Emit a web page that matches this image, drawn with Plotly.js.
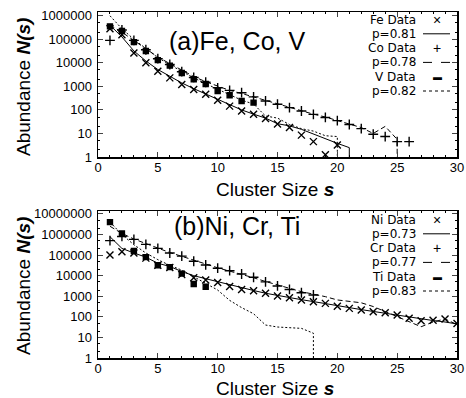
<!DOCTYPE html>
<html>
<head>
<meta charset="utf-8">
<script src="https://cdn.plot.ly/plotly-3.0.1.min.js"></script>
<style>html,body{margin:0;padding:0;background:#fff;}#plot{width:466px;height:398px;}</style>
</head>
<body>
<div id="plot"></div>
<script>
// ---------- data ----------
const feSizes = [1,2,3,4,5,6,7,8,9,10,11,12,13,14,15,16,17,18,19,20];
const feData  = [280000,155000,26000,10000,4400,2300,1200,740,460,260,145,90,65,43,25,18,8.5,4.5,1.25,3.2];
const coSizes = [1,2,3,4,5,6,7,8,9,10,11,12,13,14,15,16,17,18,19,20,21,22,23,24,25,26];
const coData  = [90000,250000,90000,36000,15000,8500,4200,2400,1500,870,680,540,360,240,175,125,90,65,48,35,24,16,9.3,7.4,4.5,4.5];
const vSizes  = [1,2,3,4,5,6,7,8,9,10,11,12,13];
const vData   = [355000,225000,76000,32000,13000,7600,3700,2000,1260,630,420,240,205];

const feFitSizes = [1,2,3,4,5,6,7,8,9,10,11,12,13,14,15,16,17,18,19,20,21,21];
const feFit      = [400000,126000,32000,12000,5200,2630,1400,800,480,280,166,100,66,45,26,21,15,9.3,5.8,3.8,2.5,0.5];
const coFitSizes = [1,2,3,4,5,6,7,8,9,10,11,12,13,14,15,16,17,18,19,20,21,22,23,24,25,25];
const coFit      = [400000,200000,89000,40000,17800,9300,4800,2630,1580,1000,676,500,355,250,178,126,91,66,50,35,25,17.8,10,20,5.6,0.5];
const vFitSizes  = [1,2,3,4,5,6,7,8,9,10,11,12,13,14,15,16,17,18,19,20,20];
const vFit       = [1000000,280000,100000,40000,16600,8300,4200,2300,1300,760,450,260,178,55,45,24,16,12.6,8,7.4,0.5];

const niSizes = [1,2,3,4,5,6,7,8,9,10,11,12,13,14,15,16,17,18,19,20,21,22,23,24,25,26,27,28,29,30];
const niData  = [100000,145000,126000,71000,32000,25000,11200,7900,6200,4600,3000,2140,1860,1380,1020,850,660,540,450,330,257,214,178,158,123,85,65,69,79,48];
const crSizes = [1,2,3,4,5,6,7,8,9,10,11,12,13,14,15,16,17,18];
const crData  = [500000,800000,575000,330000,210000,126000,89000,50000,33000,23000,17400,12000,8300,5000,3160,2140,1480,1150];
const tiSizes = [1,2,3,4,5,6,7,8,9];
const tiData  = [4000000,1120000,158000,79000,32000,26000,12600,3900,2900];

const niFitSizes = [1,2,3,4,5,6,7,8,9,10,11,12,13,14,15,16,17,18,19,20,21,22,23,24,25,26,27,28,29,30];
const niFit      = [780000,210000,126000,79000,40000,28000,15800,10000,7100,5000,3550,2500,1900,1400,1070,850,680,550,450,355,280,224,182,148,120,95,76,66,56,45];
const crFitSizes = [1,2,3,4,5,6,7,8,9,10,11,12,13,14,15,16,17,18,19,20,21,22,23,24,25,26,27,28,29,30];
const crFit      = [2500000,1120000,600000,355000,214000,132000,87000,55000,35500,24000,16600,11700,7900,5200,3470,2400,1660,1260,955,660,550,480,316,178,100,56,33,56,79,42];
const tiFitSizes = [1,2,3,4,5,6,7,8,9,10,11,12,13,14,15,16,17,18,18];
const tiFit      = [4000000,1000000,316000,126000,60000,31600,18600,8900,4000,2000,630,280,141,40,32,29,27.5,16,0.5];

const xTicks = [0,5,10,15,20,25,30];
const yTicksA = [1,10,100,1000,10000,100000,1000000];
const yTicksB = [1,10,100,1000,10000,100000,1000000,10000000];
const legendA = ['Fe Data','p=0.81','Co Data','p=0.78','V Data','p=0.82'];
const legendB = ['Ni Data','p=0.73','Cr Data','p=0.77','Ti Data','p=0.83'];
const panelA = '(a)Fe, Co, V';
const panelB = '(b)Ni, Cr, Ti';

// ---------- figure ----------
const FONT = 'Liberation Sans, Arial, sans-serif';
const LFONT = 'DejaVu Sans, Liberation Sans, sans-serif';
const W = 466, H = 398;
const px = x => x / W;
const py = y => 1 - y / H;

function dataTrace(x, y, sym, size, xa, ya) {
  return {x, y, xaxis: xa, yaxis: ya, type: 'scatter', mode: 'markers', showlegend: false,
    marker: {symbol: sym, size: size, color: '#000', line: {color: '#000', width: 1.4}}};
}
function fitTrace(x, y, dash, xa, ya) {
  return {x, y, xaxis: xa, yaxis: ya, type: 'scatter', mode: 'lines', showlegend: false,
    line: {color: '#000', width: 1, dash: dash}};
}

const traces = [
  fitTrace(feFitSizes, feFit, 'solid', 'x', 'y'),
  fitTrace(coFitSizes, coFit, '5px,3px', 'x', 'y'),
  fitTrace(vFitSizes, vFit, '2px,2px', 'x', 'y'),
  dataTrace(feSizes, feData, 'x-thin-open', 7, 'x', 'y'),
  dataTrace(coSizes, coData, 'cross-thin-open', 7, 'x', 'y'),
  dataTrace(vSizes, vData, 'square', 5, 'x', 'y'),
  fitTrace(niFitSizes, niFit, 'solid', 'x2', 'y2'),
  fitTrace(crFitSizes, crFit, '5px,3px', 'x2', 'y2'),
  fitTrace(tiFitSizes, tiFit, '2px,2px', 'x2', 'y2'),
  dataTrace(niSizes, niData, 'x-thin-open', 7, 'x2', 'y2'),
  dataTrace(crSizes, crData, 'cross-thin-open', 7, 'x2', 'y2'),
  dataTrace(tiSizes, tiData, 'square', 5, 'x2', 'y2'),
];

const xDom = [px(98), px(457)];
function xAxis(anchor) {
  return {domain: xDom, anchor: anchor, range: [0, 30], tickvals: xTicks, ticks: 'inside', ticklen: 5,
    tickwidth: 1, showline: true, linewidth: 1.5, linecolor: '#000', mirror: 'allticks', showgrid: false,
    zeroline: false, tickfont: {family: FONT, size: 13, color: '#000'}, ticklabelstandoff: -2,
    minor: {ticks: 'inside', ticklen: 2, dtick: 1, tickcolor: '#000'}};
}
function yAxis(anchor, dom, top, vals) {
  return {domain: dom, anchor: anchor, type: 'log', range: [0, top], tickvals: vals,
    ticktext: vals.map(v => String(v)), ticks: 'inside', ticklen: 5, tickwidth: 1, showline: true,
    linewidth: 1.5, linecolor: '#000', mirror: 'allticks', showgrid: false, zeroline: false,
    tickfont: {family: FONT, size: 13, color: '#000'}, ticklabelstandoff: 2,
    minor: {ticks: 'inside', ticklen: 2, tickcolor: '#000', showgrid: false}};
}

const ann = [];
const shapes = [];
function text(t, x, y, size, opts) {
  ann.push(Object.assign({text: t, x: px(x), y: py(y), xref: 'paper', yref: 'paper', showarrow: false,
    borderpad: 0, font: {family: FONT, size: size, color: '#000'}, xanchor: 'center', yanchor: 'middle'}, opts || {}));
}
// axis titles
text('Abundance <b><i>N(s)</i></b>', 23, 87, 19, {textangle: -90});
text('Abundance <b><i>N(s)</i></b>', 23, 286, 19, {textangle: -90});
text('Cluster Size <b><i>s</i></b>', 275, 190, 19);
text('Cluster Size <b><i>s</i></b>', 275, 388, 19);
// panel labels
text(panelA, 237, 41, 25);
text(panelB, 237, 226, 25);

// custom legends (text right-aligned, symbol/line sample on the right)
const dashes = ['solid', 'dash', 'dot'];
const glyphs = ['\u00d7', '+', '\u25ac'];
function legend(labels, rows) {
  labels.forEach((lab, i) => {
    text(lab, 417, rows[i], 12, {xanchor: 'right', font: {family: LFONT, size: 12, color: '#000'}});
    const k = Math.floor(i / 2);
    if (i % 2 === 0) {
      text(glyphs[k], 437, rows[i], k === 2 ? 9 : 14);
    } else {
      shapes.push({type: 'line', xref: 'paper', yref: 'paper', x0: px(423), x1: px(450), y0: py(rows[i]), y1: py(rows[i]),
        line: {color: '#000', width: 1, dash: dashes[k]}});
    }
  });
}
legend(legendA, [19.5, 33.8, 48.1, 62.4, 76.7, 91]);
legend(legendB, [219.5, 233.8, 248.1, 262.4, 276.7, 291]);

const layout = {
  width: W, height: H, margin: {l: 0, r: 0, t: 0, b: 0},
  paper_bgcolor: '#fff', plot_bgcolor: '#fff', showlegend: false,
  xaxis: xAxis('y'), yaxis: yAxis('x', [py(157), py(12)], 6.16, yTicksA),
  xaxis2: xAxis('y2'), yaxis2: yAxis('x2', [py(358), py(211)], 7.14, yTicksB),
  annotations: ann, shapes: shapes, font: {family: FONT, color: '#000'}
};
Plotly.newPlot('plot', traces, layout, {staticPlot: true, displayModeBar: false});
</script>
</body>
</html>
